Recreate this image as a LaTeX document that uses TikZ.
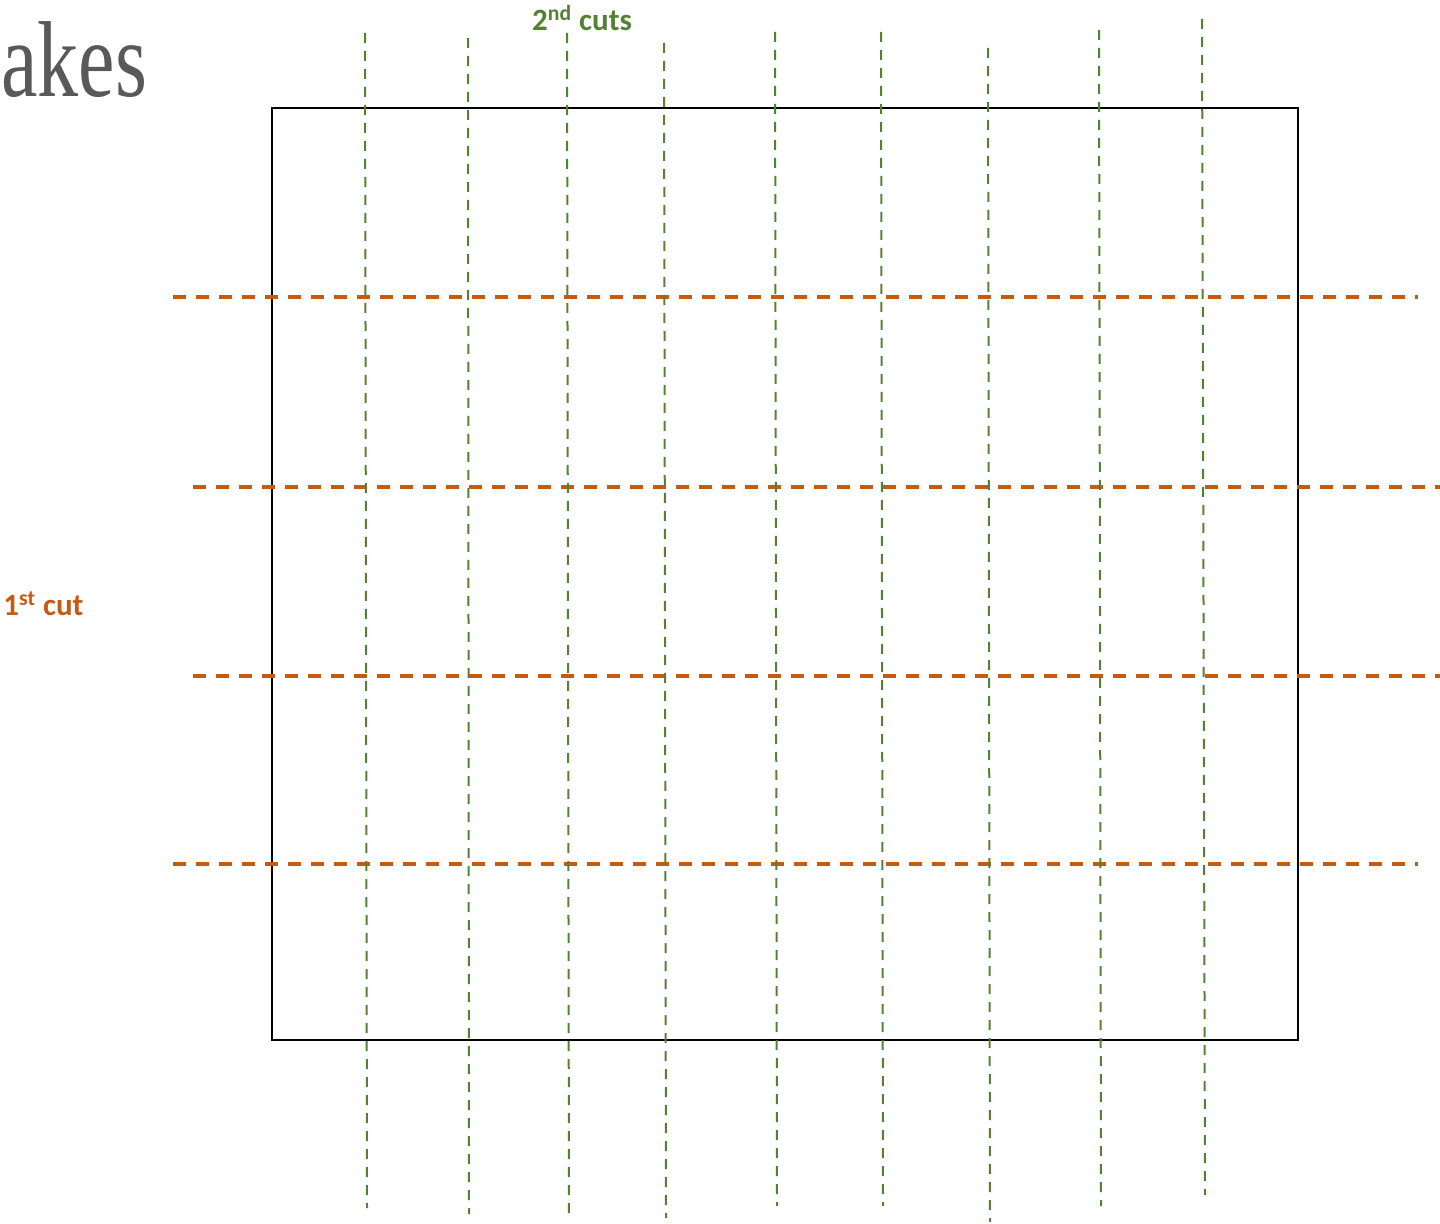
\documentclass[tikz,border=0pt]{standalone}
\usepackage{fontspec}
\setmainfont{Carlito}
\newfontfamily\titlefont{Liberation Serif}
\definecolor{cutorange}{HTML}{C55A11}
\definecolor{cutgreen}{HTML}{548235}
\definecolor{titlegray}{HTML}{595959}
\begin{document}
\begin{tikzpicture}[x=0.5pt,y=-0.5pt,
  firstcut/.style={draw=cutorange,line width=1.7pt,dash pattern=on 6.5pt off 5pt},
  secondcut/.style={draw=cutgreen,line width=1pt,dash pattern=on 5pt off 4pt},
  cake/.style={draw=black,line width=1.2pt},
  lbl/.style={font=\bfseries,inner sep=0pt}]
\useasboundingbox (0,0) rectangle (1440,1224);
% title fragment
\node[anchor=base west,inner sep=0pt,text=titlegray,font=\titlefont\fontsize{54}{60}\selectfont] (title) at (1,97) {\scalebox{0.76}[1]{akes}};
% cake
\node[cake,minimum width=513pt,minimum height=466pt,inner sep=0pt,anchor=north west] (cakebox) at (271,107) {};
% first cuts (horizontal)
\coordinate (h1a) at (173,297); \coordinate (h1b) at (1418,297);
\coordinate (h2a) at (193,487); \coordinate (h2b) at (1440,487);
\coordinate (h3a) at (193,676); \coordinate (h3b) at (1440,676);
\coordinate (h4a) at (173,864); \coordinate (h4b) at (1418,864);
\foreach \i in {1,...,4} { \draw[firstcut] (h\i a) -- (h\i b); }
% second cuts (vertical)
\coordinate (v1a) at (365,33);  \coordinate (v1b) at (367,1208);
\coordinate (v2a) at (468,38);  \coordinate (v2b) at (469,1214);
\coordinate (v3a) at (567,33);  \coordinate (v3b) at (569,1220);
\coordinate (v4a) at (664,43);  \coordinate (v4b) at (666,1218);
\coordinate (v5a) at (775,32);  \coordinate (v5b) at (777,1206);
\coordinate (v6a) at (881,32);  \coordinate (v6b) at (883,1206);
\coordinate (v7a) at (988,48);  \coordinate (v7b) at (990,1222);
\coordinate (v8a) at (1099,30); \coordinate (v8b) at (1101,1206);
\coordinate (v9a) at (1202,19); \coordinate (v9b) at (1205,1195);
\foreach \i in {1,...,9} { \draw[secondcut] (v\i a) -- (v\i b); }
% labels
\node[lbl,text=cutgreen,font=\bfseries\fontsize{15.5}{18}\selectfont] (lbl2) at (582,18) {2\textsuperscript{nd} cuts};
\node[lbl,text=cutorange,font=\bfseries\fontsize{15.5}{18}\selectfont,anchor=west] (lbl1) at (3,604) {1\textsuperscript{st} cut};
\end{tikzpicture}
\end{document}
